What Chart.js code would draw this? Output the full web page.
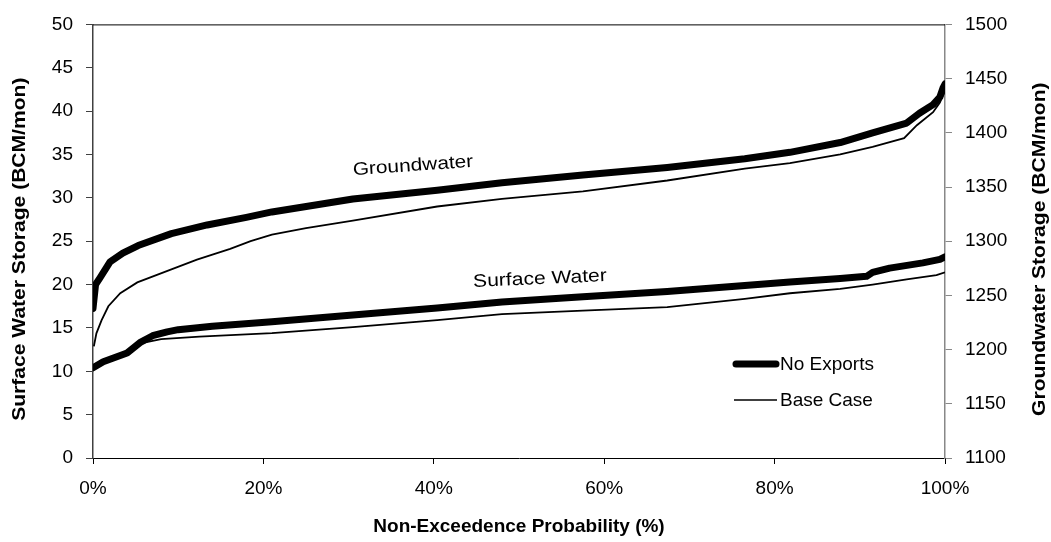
<!DOCTYPE html>
<html>
<head>
<meta charset="utf-8">
<script src="https://cdn.jsdelivr.net/npm/chart.js@4/dist/chart.umd.min.js"></script>
<style>
  body { margin: 0; background: #fff; }
  #wrap { width: 1051px; height: 542px; }
</style>
</head>
<body>
<div id="wrap"><canvas id="myChart" width="1051" height="542"></canvas></div>
<script>
// probability (%) and values
var gwNoExpP = [0, 0.3, 0.8, 2, 3.5, 5.3, 9.2, 13.4, 18, 21, 30.5, 40.4, 48, 57.5, 67.4, 76.5, 81.8, 87.7, 91.5, 95.5, 97, 98.6, 99.4, 99.8, 100]
var gwNoExp = [1238, 1260, 1266, 1281, 1289, 1296, 1307, 1315, 1322, 1327, 1339, 1347, 1354, 1361, 1368, 1376, 1382, 1391, 1400, 1409, 1418, 1426, 1433, 1442, 1445]

var gwBaseP = [0.1, 0.4, 1, 1.8, 3.2, 5.2, 8.2, 12.2, 16.1, 18.5, 21, 25, 30.5, 40.4, 48, 57.5, 67.4, 76.5, 81.8, 87.7, 91.5, 95.2, 96.7, 98.6, 99.4, 100]
var gwBase = [1203, 1215, 1227, 1240, 1252, 1262, 1271, 1283, 1293, 1300, 1306, 1312, 1319, 1332, 1339, 1346, 1356, 1367, 1372, 1380, 1387, 1395, 1407, 1419, 1428, 1439]

var swNoExpP = [0, 1.2, 4, 5.5, 7, 8.7, 10, 14, 21, 30.5, 40.4, 48, 57.5, 67.4, 76.5, 81.8, 87.7, 90.8, 91.5, 93.5, 97.4, 99.4, 100]
var swNoExp = [10.4, 11.1, 12.1, 13.3, 14.1, 14.55, 14.8, 15.2, 15.7, 16.5, 17.3, 18.0, 18.6, 19.2, 19.9, 20.3, 20.7, 20.95, 21.4, 21.9, 22.5, 22.9, 23.2]

var swBaseP = [0, 1, 3, 5, 6, 8, 12.5, 21, 30.5, 40.4, 48, 57.5, 67.4, 76.5, 81.8, 87.7, 91.5, 95.5, 99, 100]
var swBase = [10.4, 11.1, 11.9, 12.9, 13.3, 13.7, 14.0, 14.4, 15.1, 15.9, 16.6, 17.0, 17.4, 18.35, 19.0, 19.5, 20.0, 20.6, 21.1, 21.4]

var xTicks = [0, 20, 40, 60, 80, 100]
var legendNames = ["No Exports", "Base Case"]

var toPoints = function(xs, ys){
  var pts = []
  for (var i = 0; i < xs.length; i++) pts.push({x: xs[i], y: ys[i]})
  return pts
}

var FONT = "'Liberation Sans', Arial, sans-serif"

// draw text stretched a bit wider, like the original
function wideText(c, txt, x, y, angle, sx){
  c.save()
  c.translate(x, y)
  c.rotate(angle)
  c.scale(sx, 1)
  c.fillText(txt, 0, 0)
  c.restore()
}

var extras = {
  id: 'extras',
  afterDraw: function(chart){
    var c = chart.ctx
    var a = chart.chartArea
    c.save()
    // top border
    c.strokeStyle = '#000'
    c.lineWidth = 1
    c.beginPath()
    c.moveTo(a.left, a.top + 0.5)
    c.lineTo(a.right, a.top + 0.5)
    c.stroke()

    // axis titles
    c.fillStyle = '#000'
    c.font = 'bold 19px ' + FONT
    c.textAlign = 'center'
    c.textBaseline = 'middle'
    c.fillText('Non-Exceedence Probability (%)', (a.left + a.right) / 2, 527)
    c.font = 'bold 18px ' + FONT
    wideText(c, 'Surface Water Storage (BCM/mon)', 20, (a.top + a.bottom) / 2 + 8, -Math.PI / 2, 1.17)
    wideText(c, 'Groundwater Storage (BCM/mon)', 1040, (a.top + a.bottom) / 2 + 8, -Math.PI / 2, 1.17)

    // curve labels
    c.font = '18px ' + FONT
    wideText(c, 'Groundwater', 413, 166, -4 * Math.PI / 180, 1.16)
    wideText(c, 'Surface Water', 540, 279, -2.5 * Math.PI / 180, 1.17)

    // legend
    c.lineCap = 'round'
    c.lineWidth = 7
    c.beginPath()
    c.moveTo(736, 364)
    c.lineTo(776, 364)
    c.stroke()
    c.lineCap = 'butt'
    c.lineWidth = 1.5
    c.beginPath()
    c.moveTo(734, 400)
    c.lineTo(777, 400)
    c.stroke()
    c.textAlign = 'left'
    c.font = '19px ' + FONT
    c.fillText(legendNames[0], 780, 365)
    c.fillText(legendNames[1], 780, 401)
    c.restore()
  }
}

var ctx = document.getElementById("myChart")
var chart = new Chart(ctx, {
  type: 'line',
  data: {
    datasets: [{
      label: 'Groundwater No Exports',
      data: toPoints(gwNoExpP, gwNoExp),
      yAxisID: 'y1',
      borderColor: '#000',
      borderWidth: 7,
      borderCapStyle: 'round',
      borderJoinStyle: 'round'
    },
    {
      label: 'Groundwater Base Case',
      data: toPoints(gwBaseP, gwBase),
      yAxisID: 'y1',
      borderColor: '#000',
      borderWidth: 1.8
    },
    {
      label: 'Surface Water No Exports',
      data: toPoints(swNoExpP, swNoExp),
      yAxisID: 'y',
      borderColor: '#000',
      borderWidth: 7,
      borderCapStyle: 'round',
      borderJoinStyle: 'round'
    },
    {
      label: 'Surface Water Base Case',
      data: toPoints(swBaseP, swBase),
      yAxisID: 'y',
      borderColor: '#000',
      borderWidth: 1.8
    }]
  },
  options: {
    responsive: false,
    animation: false,
    layout: { padding: { top: 24, left: 0, right: 0, bottom: 0 } },
    elements: { point: { radius: 0 }, line: { tension: 0 } },
    plugins: { legend: { display: false }, tooltip: { enabled: false } },
    scales: {
      x: {
        type: 'linear',
        min: 0,
        max: 100,
        afterFit: function(s){ s.height = 84 },
        afterBuildTicks: function(s){ s.ticks = xTicks.map(function(v){ return {value: v} }) },
        ticks: {
          padding: 13,
          color: '#000',
          font: { size: 19, family: FONT },
          maxRotation: 0,
          callback: function(v){ return v + '%' }
        },
        grid: { drawOnChartArea: false, drawTicks: true, tickLength: 6, color: '#000' },
        border: { display: true, color: '#000', width: 1 }
      },
      y: {
        position: 'left',
        min: 0,
        max: 50,
        afterFit: function(s){ s.width = 93 },
        ticks: {
          stepSize: 5,
          padding: 13,
          color: '#000',
          font: { size: 19, family: FONT },
          callback: function(v){ return String(v) }
        },
        grid: { drawOnChartArea: false, drawTicks: true, tickLength: 7, color: '#404040' },
        border: { display: true, color: '#404040', width: 1.5 }
      },
      y1: {
        position: 'right',
        min: 1100,
        max: 1500,
        afterFit: function(s){ s.width = 106 },
        ticks: {
          stepSize: 50,
          padding: 13,
          color: '#000',
          font: { size: 19, family: FONT },
          callback: function(v){ return String(v) }
        },
        grid: { drawOnChartArea: false, drawTicks: true, tickLength: 7, color: '#888' },
        border: { display: true, color: '#888', width: 1.5 }
      }
    }
  },
  plugins: [extras]
})
</script>
</body>
</html>
